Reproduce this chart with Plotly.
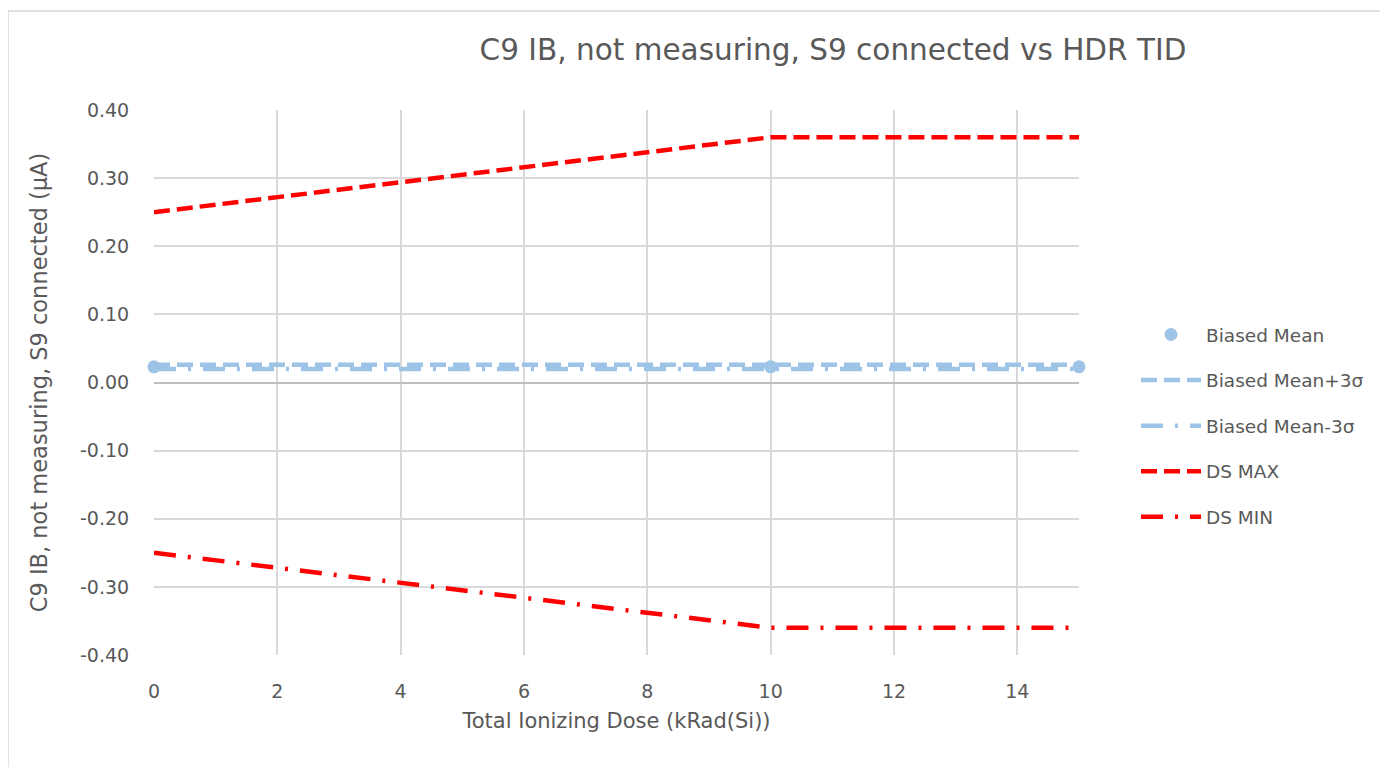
import plotly.graph_objects as go

# 數據
dose = [0, 10, 15]
biased_mean = [0.023, 0.023, 0.023]
biased_plus3s = [0.026, 0.026, 0.026]
biased_minus3s = [0.020, 0.020, 0.020]
ds_max = [0.25, 0.36, 0.36]
ds_min = [-0.25, -0.36, -0.36]

x_ticks = [0, 2, 4, 6, 8, 10, 12, 14]
y_ticks = [-0.4, -0.3, -0.2, -0.1, 0.0, 0.1, 0.2, 0.3, 0.4]
y_labels = ["-0.40", "-0.30", "-0.20", "-0.10", "0.00", "0.10", "0.20", "0.30", "0.40"]

BLUE = "#9DC3E6"
RED = "#FF0000"
TEXT = "#595959"
GRID = "#D9D9D9"
FONT = "'DejaVu Sans', sans-serif"

# 頁面 body 有 8px 邊距，所以圖的座標整體往左上平移 8px
OFF = 8
W, H = 1388 - OFF, 767 - OFF
L, R, T, B = 154 - OFF, 1079 - OFF, 110 - OFF, 655 - OFF


def px_x(p):
    return (p - OFF - L) / (R - L)


def px_y(p):
    return (B - (p - OFF)) / (B - T)


fig = go.Figure()

fig.add_trace(go.Scatter(
    x=dose, y=biased_mean, mode="markers", name="Biased Mean",
    marker=dict(color=BLUE, size=13), legendgroup="a", cliponaxis=False,
))
fig.add_trace(go.Scatter(
    x=dose, y=biased_plus3s, mode="lines", name="Biased Mean+3σ",
    line=dict(color=BLUE, width=4.5, dash="16px,7px"), legendgroup="b",
))
fig.add_trace(go.Scatter(
    x=dose, y=biased_minus3s, mode="lines", name="Biased Mean-3σ",
    line=dict(color=BLUE, width=4.5, dash="22px,12px,3px,12px"), legendgroup="c",
))
fig.add_trace(go.Scatter(
    x=dose, y=ds_max, mode="lines", name="DS MAX",
    line=dict(color=RED, width=4.5, dash="16px,7px"), legendgroup="d",
))
fig.add_trace(go.Scatter(
    x=dose, y=ds_min, mode="lines", name="DS MIN",
    line=dict(color=RED, width=4.5, dash="22px,12px,3px,12px"), legendgroup="e",
))

# 外框
fig.add_shape(
    type="rect", xref="paper", yref="paper",
    x0=px_x(8), x1=px_x(1400), y0=px_y(780), y1=px_y(11),
    line=dict(color=GRID, width=1.5), fillcolor="rgba(0,0,0,0)", layer="below",
)

fig.update_layout(
    width=W, height=H,
    margin=dict(l=L, r=W - R, t=T, b=H - B),
    paper_bgcolor="white", plot_bgcolor="white",
    font=dict(family=FONT, color=TEXT, size=19),
    title=dict(
        text="C9 IB, not measuring, S9 connected vs HDR TID",
        font=dict(size=29.5, color=TEXT, family=FONT),
        x=(833 - OFF) / W, xanchor="center", y=1 - (50 - OFF) / H, yanchor="middle",
    ),
    xaxis=dict(
        range=[0, 15], tickvals=x_ticks, showgrid=True, gridcolor=GRID,
        gridwidth=1.5, zeroline=False, showline=False,
        ticks="outside", ticklen=19, tickcolor="rgba(0,0,0,0)",
        tickfont=dict(size=19, color=TEXT),
        title=dict(text="Total Ionizing Dose (kRad(Si))", font=dict(size=21, color=TEXT), standoff=12),
    ),
    yaxis=dict(
        range=[-0.4, 0.4], tickvals=y_ticks, ticktext=y_labels,
        showgrid=True, gridcolor=GRID, gridwidth=1.5,
        zeroline=True, zerolinecolor="#BFBFBF", zerolinewidth=1.5,
        showline=False, ticks="outside", ticklen=20, tickcolor="rgba(0,0,0,0)",
        tickfont=dict(size=19, color=TEXT),
        title=dict(text="C9 IB, not measuring, S9 connected (µA)", font=dict(size=22.5, color=TEXT), standoff=26),
    ),
    legend=dict(
        x=px_x(1136), y=px_y(316), xanchor="left", yanchor="top",
        font=dict(size=18.5, color=TEXT), tracegroupgap=18.5,
        bgcolor="rgba(0,0,0,0)", itemwidth=60,
    ),
)

fig.write_html("out.html")
